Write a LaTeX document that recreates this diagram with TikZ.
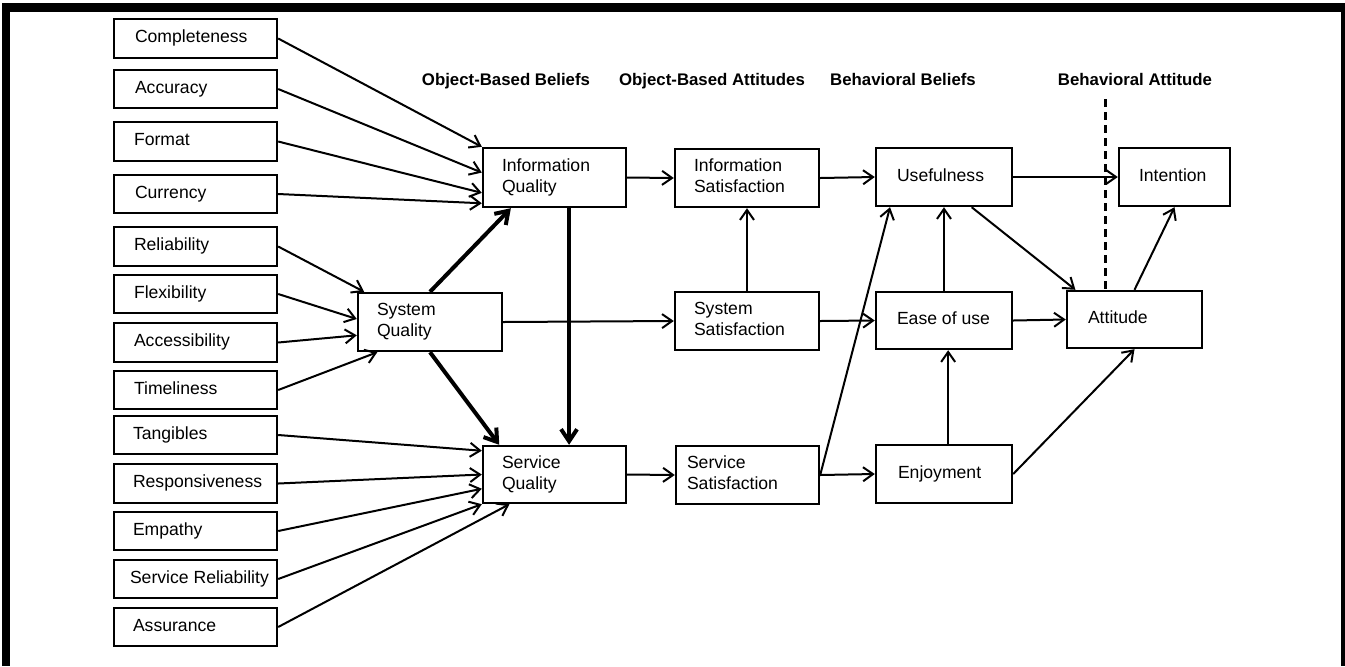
\documentclass[tikz,border=0pt]{standalone}
\usepackage{fontspec}
\setmainfont{Liberation Sans}
\usetikzlibrary{arrows.meta,calc}
\tikzset{
  boxstyle/.style={draw, line width=1.2pt, inner sep=0pt, font=\fontsize{8.8pt}{10.5pt}\selectfont},
  conn/.style={line width=1pt, -{Straight Barb[length=5pt,width=7pt]}},
  heavy/.style={line width=2pt, -{Straight Barb[length=6pt,width=8pt]}},
  hdr/.style={font=\fontsize{8.4pt}{10pt}\selectfont\bfseries, anchor=base, inner sep=0pt},
  sepline/.style={line width=1.5pt, dash pattern=on 4pt off 2.5pt}
}
\newcommand\mybox[7]{%
  \pgfmathsetmacro\myBW{(#4-#2)*0.5}%
  \pgfmathsetmacro\myBH{(#5-#3)*0.5}%
  \pgfmathsetmacro\myIns{#6*0.5}%
  \node[boxstyle, minimum width=\myBW pt, minimum height=\myBH pt] (#1) at ({(#2+#4)/2},{(#3+#5)/2})
    {\makebox[\myBW pt][l]{\hspace*{\myIns pt}\begin{tabular}{@{}l@{}}#7\end{tabular}}};}
\begin{document}
\begin{tikzpicture}[x=0.5pt, y=-0.5pt]
\useasboundingbox (0,0) rectangle (1345,666);
% frame
\fill (2,3) rectangle (1345,12);
\fill (2,3) rectangle (10,666);
\fill (1340.5,3) rectangle (1345,666);
% headers
\node[hdr] (h1) at (506,85) {Object-Based Beliefs};
\node[hdr] (h2) at (712,85) {Object-Based Attitudes};
\node[hdr] (h3) at (903,85) {Behavioral Beliefs};
\node[hdr] (h4) at (1135,85) {Behavioral Attitude};
% left column
\mybox{comp}{114}{19}{277}{58}{21}{Completeness}
\mybox{acc}{114}{70}{277}{108}{21}{Accuracy}
\mybox{fmt}{114}{122}{277}{161}{20}{Format}
\mybox{cur}{114}{175}{277}{213}{21}{Currency}
\mybox{rel}{114}{227}{277}{266}{20}{Reliability}
\mybox{flex}{114}{275}{277}{313}{20}{Flexibility}
\mybox{accs}{114}{323}{277}{362}{20}{Accessibility}
\mybox{time}{114}{371}{277}{409}{20}{Timeliness}
\mybox{tang}{114}{416}{277}{454}{19}{Tangibles}
\mybox{resp}{114}{464}{277}{503}{19}{Responsiveness}
\mybox{emp}{114}{512}{277}{550}{19}{Empathy}
\mybox{srel}{114}{560}{277}{598}{16}{Service Reliability}
\mybox{assur}{114}{608}{277}{646}{19}{Assurance}
% middle
\mybox{iq}{483}{148}{626}{207}{19}{Information\\Quality}
\mybox{sq}{358}{293}{502}{351}{19}{System\\Quality}
\mybox{svq}{483}{446}{626}{503}{19}{Service\\Quality}
\mybox{is}{675}{149}{819}{207}{19}{Information\\Satisfaction}
\mybox{ss}{675}{292}{819}{350}{19}{System\\Satisfaction}
\mybox{svs}{676}{446}{819}{504}{11}{Service\\Satisfaction}
\mybox{use}{876}{148}{1012}{206}{21}{Usefulness}
\mybox{ease}{876}{292}{1012}{349}{21}{Ease of use}
\mybox{enj}{876}{445}{1012}{503}{22}{Enjoyment}
\mybox{int}{1119}{148}{1230}{206}{20}{Intention}
\mybox{att}{1067}{291}{1202}{348}{21}{Attitude}
% separator
\coordinate (dtop) at (1105,99);
\draw[sepline] (dtop) -- (dtop |- att.north);
% inputs to information quality
\draw[conn] (comp.east) -- (iq.north west);
\draw[conn] (acc.east) -- ($(iq.north west)!0.42!(iq.south west)$);
\draw[conn] (fmt.east) -- ($(iq.north west)!0.75!(iq.south west)$);
\draw[conn] (cur.east) -- ($(iq.north west)!0.92!(iq.south west)$);
% inputs to system quality
\draw[conn] (rel.east) -- ($(sq.north west)!0.05!(sq.north east)$);
\draw[conn] (flex.east) -- ($(sq.north west)!0.45!(sq.south west)$);
\draw[conn] (accs.east) -- ($(sq.north west)!0.72!(sq.south west)$);
\draw[conn] (time.east) -- ($(sq.south west)!0.14!(sq.south east)$);
% inputs to service quality
\draw[conn] (tang.east) -- ($(svq.north west)!0.1!(svq.south west)$);
\draw[conn] (resp.east) -- ($(svq.north west)!0.5!(svq.south west)$);
\draw[conn] (emp.east) -- ($(svq.north west)!0.74!(svq.south west)$);
\draw[conn] (srel.east) -- (svq.south west);
\draw[conn] (assur.east) -- ($(svq.south west)!0.19!(svq.south east)$);
% heavy links
\draw[heavy] (sq.north) -- ($(iq.south west)!0.2!(iq.south east)$);
\draw[heavy] (sq.south) -- ($(svq.north west)!0.12!(svq.north east)$);
\draw[heavy] ($(iq.south west)!0.6!(iq.south east)$) -- ($(svq.north west)!0.6!(svq.north east)$);
% quality to satisfaction
\draw[conn] (iq.east) -- (is.west);
\draw[conn] (sq.east) -- (ss.west);
\draw[conn] (svq.east) -- (svs.west);
\draw[conn] (ss.north) -- (is.south);
% satisfaction to beliefs
\draw[conn] (is.east) -- (use.west);
\draw[conn] (ss.east) -- (ease.west);
\draw[conn] (svs.east) -- (enj.west);
\draw[conn] (svs.east) -- ($(use.south west)!0.11!(use.south east)$);
% beliefs
\draw[conn] (ease.north) -- (ease.north |- use.south);
\draw[conn] ($(enj.north west)!0.53!(enj.north east)$) -- ($(ease.south west)!0.53!(ease.south east)$);
\draw[conn] (use.east) -- (int.west);
\draw[conn] (ease.east) -- (att.west);
\draw[conn] ($(use.south west)!0.7!(use.south east)$) -- ($(att.north west)!0.07!(att.north east)$);
\draw[conn] (att.north) -- (int.south);
\draw[conn] (enj.east) -- (att.south);
\end{tikzpicture}
\end{document}
